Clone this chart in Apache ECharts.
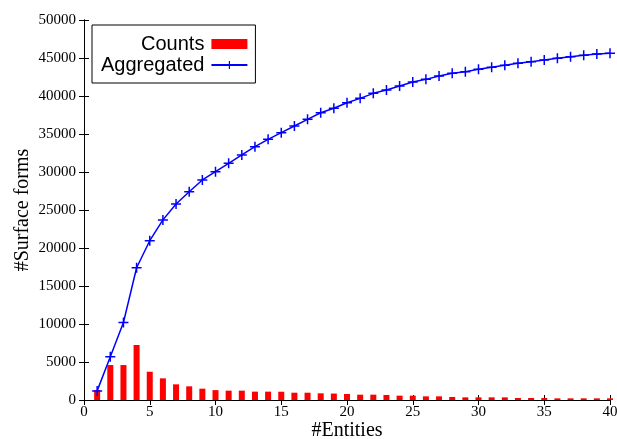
<!DOCTYPE html>
<html>
<head>
<meta charset="utf-8">
<script src="https://cdn.jsdelivr.net/npm/echarts@6/dist/echarts.min.js"></script>
<style>
html,body{margin:0;padding:0;background:#fff;}
#main{width:617px;height:439px;}
</style>
</head>
<body>
<div id="main"></div>
<script>
// data
var entities = [1,2,3,4,5,6,7,8,9,10,11,12,13,14,15,16,17,18,19,20,
	21,22,23,24,25,26,27,28,29,30,31,32,33,34,35,36,37,38,39,40];
var counts = [1300,4600,4600,7240,3720,2850,2060,1800,1490,1300,1230,1230,1100,1100,1090,960,960,880,850,790,
	700,700,660,570,570,480,480,400,350,350,350,350,260,260,260,220,220,220,220,220];
var aggregated = [1200,5700,10200,17400,20960,23700,25790,27400,28950,30040,31140,32240,33330,34300,35180,36050,36930,37800,38380,39120,
	39690,40350,40790,41320,41840,42190,42630,42980,43200,43510,43770,44040,44300,44520,44740,44960,45180,45350,45530,45620];
var xTicks = [0,5,10,15,20,25,30,35,40];
var yTicks = [0,5000,10000,15000,20000,25000,30000,35000,40000,45000,50000];

var chart = echarts.init(document.getElementById('main'));

var serif = '"Liberation Serif", "DejaVu Serif", serif';
var plus = 'path://M0,4.25H10V5.75H0Z M4.25,0H5.75V10H4.25Z';

function pairs(ys){
	return entities.map(function(x,i){ return [x, ys[i]]; });
}

var boxAxis = {
	lineStyle:{color:'#000',width:1}
};

var option = {
	animation:false,
	grid:{left:84,right:7,top:20,bottom:39,containLabel:false,outerBoundsMode:'none'},
	legend:{
		orient:'vertical',
		align:'right',
		left:92,
		top:25,
		padding:[9,7,8,9],
		itemGap:1,
		itemWidth:36,
		itemHeight:10,
		borderColor:'#000',
		borderWidth:1,
		textStyle:{fontFamily:'"Liberation Sans", Arial, sans-serif',fontSize:20,color:'#000',padding:[0,2,0,0]},
		data:[{name:'Counts',icon:'rect'},{name:'Aggregated'}]
	},
	xAxis:[{
		type:'value',
		min:xTicks[0],
		max:xTicks[xTicks.length-1],
		interval:5,
		name:'#Entities',
		nameLocation:'middle',
		nameGap:21,
		nameMoveOverlap:false,
		nameTextStyle:{fontFamily:serif,fontSize:20,color:'#000'},
		axisLine:boxAxis,
		axisTick:{inside:true,length:5,lineStyle:{color:'#000'}},
		axisLabel:{fontFamily:serif,fontSize:15,color:'#000',margin:5,formatter:function(v){return String(v);}},
		splitLine:{show:false}
	},{
		type:'value',
		position:'top',
		min:xTicks[0],
		max:xTicks[xTicks.length-1],
		interval:5,
		axisLine:boxAxis,
		axisTick:{inside:true,length:5,lineStyle:{color:'#000'}},
		axisLabel:{show:false},
		splitLine:{show:false}
	}],
	yAxis:[{
		type:'value',
		min:yTicks[0],
		max:yTicks[yTicks.length-1],
		interval:5000,
		name:'#Surface forms',
		nameLocation:'middle',
		nameGap:51,
		nameMoveOverlap:false,
		nameTextStyle:{fontFamily:serif,fontSize:20,color:'#000'},
		axisLine:{show:true,lineStyle:{color:'#000',width:1}},
		axisTick:{show:true,inside:true,length:5,lineStyle:{color:'#000'}},
		axisLabel:{fontFamily:serif,fontSize:15,color:'#000',margin:8,formatter:function(v){return String(v);}},
		splitLine:{show:false}
	},{
		type:'value',
		position:'right',
		min:yTicks[0],
		max:yTicks[yTicks.length-1],
		interval:5000,
		axisLine:{show:true,lineStyle:{color:'#000',width:1}},
		axisTick:{show:true,inside:true,length:5,lineStyle:{color:'#000'}},
		axisLabel:{show:false},
		splitLine:{show:false}
	}],
	series:[{
		name:'Counts',
		type:'bar',
		data:pairs(counts),
		barWidth:6,
		itemStyle:{color:'#ff0000'}
	},{
		name:'Aggregated',
		type:'line',
		data:pairs(aggregated),
		symbol:plus,
		symbolSize:10,
		showAllSymbol:true,
		lineStyle:{color:'#0000ff',width:1.5},
		itemStyle:{color:'#0000ff'}
	}]
};
chart.setOption(option);
</script>
</body>
</html>
